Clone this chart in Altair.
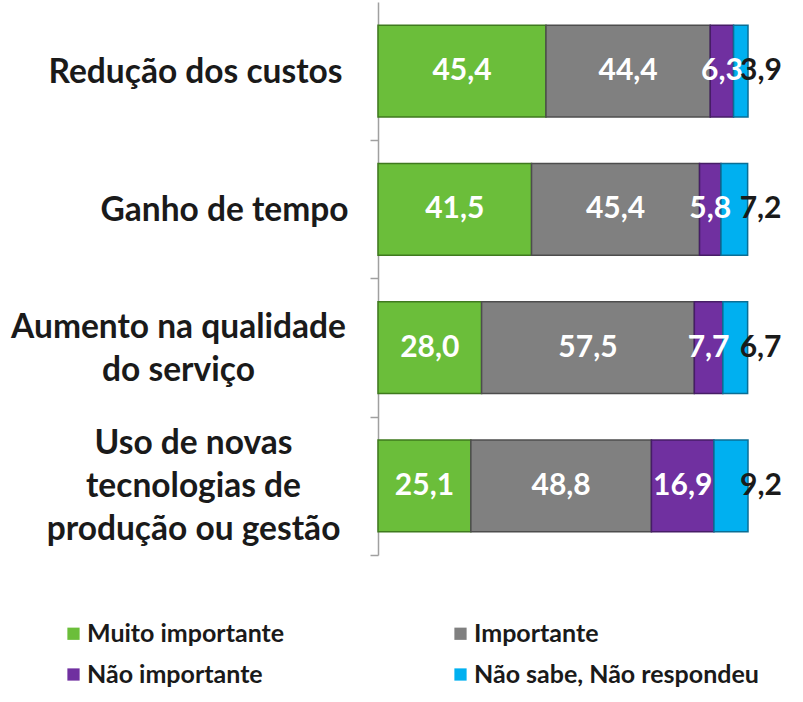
import altair as alt
import pandas as pd

categories = [
    "Redução dos custos",
    "Ganho de tempo",
    "Aumento na qualidade\ndo serviço",
    "Uso de novas\ntecnologias de\nprodução ou gestão",
]
series = ["Muito importante", "Importante", "Não importante", "Não sabe, Não respondeu"]
muito_importante = [45.4, 41.5, 28.0, 25.1]
importante = [44.4, 45.4, 57.5, 48.8]
nao_importante = [6.3, 5.8, 7.7, 16.9]
nao_sabe = [3.9, 7.2, 6.7, 9.2]

colors = ["#6BBE3A", "#808080", "#7030A0", "#00B0F0"]
edge_colors = ["#3F7A1E", "#4D4D4D", "#461D66", "#0A6E95"]

rows = []
for i, cat in enumerate(categories):
    for j, vals in enumerate([muito_importante, importante, nao_importante, nao_sabe]):
        v = vals[i]
        rows.append({
            "cat": cat,
            "serie": series[j],
            "ord": j,
            "value": v,
            "label": f"{v:.1f}".replace(".", ","),
        })
df = pd.DataFrame(rows)

FONT = "Lato"

# label padding per category (centred multi-line block)
pad_expr = [
    {"test": "indexof(datum.value, 'Ganho') == 0", "value": 146},
    {"test": "indexof(datum.value, 'Aumento') == 0", "value": 192},
    {"test": "indexof(datum.value, 'Uso') == 0", "value": 177},
]
# vertical shift so multi-line blocks are centred on their bar
off_expr = [
    {"test": "indexof(datum.value, 'Aumento') == 0", "value": -89},
    {"test": "indexof(datum.value, 'Uso') == 0", "value": -111},
]

y_enc = alt.Y(
    "cat:N",
    sort=categories,
    title=None,
    scale=alt.Scale(paddingInner=0.335, paddingOuter=0.1675),
    axis=alt.Axis(
        labelExpr="split(datum.label, '\\n')",
        labelFont=FONT,
        labelFontWeight="bold",
        labelFontSize=33.5,
        labelColor="#1a1a1a",
        labelLineHeight=43,
        labelAlign="center",
        labelBaseline="middle",
        labelPadding={"condition": pad_expr, "value": 175},
        labelLimit=0,
        labelOffset={"condition": off_expr, "value": -68},
        domainColor="#A0A0A0",
        domainWidth=1.5,
        tickColor="#A0A0A0",
        tickWidth=1.5,
        tickSize=8,
        tickOffset=69,
    ),
)

base = alt.Chart(df).transform_stack(
    stack="value", groupby=["cat"], as_=["x0", "x1"], sort=[alt.SortField("ord")]
).transform_calculate(mid="(datum.x0 + datum.x1) / 2")

x_scale = alt.Scale(domain=[0, 100])

bars = base.mark_bar(strokeWidth=1.5).encode(
    y=y_enc,
    x=alt.X("x0:Q", scale=x_scale, axis=None),
    x2="x1:Q",
    color=alt.Color(
        "serie:N",
        sort=series,
        scale=alt.Scale(domain=series, range=colors),
        legend=alt.Legend(
            title=None,
            orient="none",
            direction="horizontal",
            legendX=-317,
            legendY=619,
            padding=0,
            columns=2,
            columnPadding=163,
            rowPadding=15,
            symbolType="square",
            symbolSize=150,
            symbolStrokeWidth=0,
            labelFont=FONT,
            labelFontWeight="bold",
            labelFontSize=25,
            labelColor="#1a1a1a",
            labelOffset=1,
            labelLimit=0,
        ),
    ),
    stroke=alt.Stroke(
        "serie:N", sort=series, scale=alt.Scale(domain=series, range=edge_colors), legend=None
    ),
)

white_text = base.transform_filter("datum.ord < 3").mark_text(
    color="white", font=FONT, fontWeight="bold", fontSize=30, baseline="middle"
).encode(
    y=alt.Y("cat:N", sort=categories),
    x=alt.X("mid:Q", scale=x_scale),
    text="label:N",
)

dark_text = base.transform_filter("datum.ord == 3").mark_text(
    color="#1a1a1a", font=FONT, fontWeight="bold", fontSize=30, baseline="middle",
    align="left", dx=-8,
).encode(
    y=alt.Y("cat:N", sort=categories),
    x=alt.X("x1:Q", scale=x_scale),
    text="label:N",
)

chart = alt.layer(bars, white_text, dark_text).properties(
    width=370,
    height=553,
    autosize=alt.AutoSizeParams(type="none"),
    padding={"left": 378, "top": 2, "right": 55, "bottom": 147},
    background="white",
).configure_view(stroke=None)

chart.save("out.html", embed_options={"renderer": "svg", "actions": False})
